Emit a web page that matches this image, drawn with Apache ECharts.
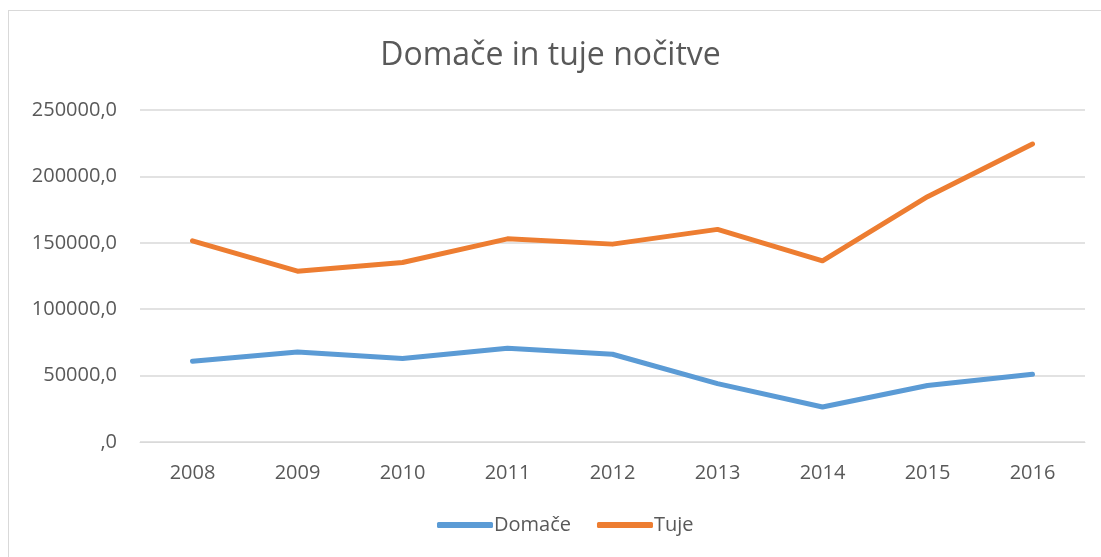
<!DOCTYPE html>
<html>
<head>
<meta charset="utf-8">
<script src="https://cdn.jsdelivr.net/npm/echarts@6/dist/echarts.min.js"></script>
<style>
  html, body { margin: 0; padding: 0; background: #fff; }
  #frame { position: absolute; left: 8px; top: 10px; width: 1110px; height: 560px; border: 1px solid #d9d9d9; }
  #chart { position: absolute; left: 0; top: 0; width: 1101px; height: 557px; }
</style>
</head>
<body>
<div id="frame"></div>
<div id="chart"></div>
<script>
const years = ['2008', '2009', '2010', '2011', '2012', '2013', '2014', '2015', '2016']
const domace = [60800, 67850, 62850, 70600, 66100, 44000, 26400, 42500, 51000]
const tuje = [151500, 128650, 135200, 153000, 149000, 160100, 136400, 184700, 224400]

const FONT = '"Open Sans", sans-serif'
const TEXT_COLOR = '#595959'

const chart = echarts.init(document.getElementById('chart'))
chart.setOption({
  animation: false,
  title: {
    text: 'Domače in tuje nočitve',
    left: 'center',
    top: 35,
    textStyle: { color: TEXT_COLOR, fontSize: 32, fontWeight: 'normal', fontFamily: FONT },
  },
  grid: { left: 140, right: 16, top: 110, bottom: 115 },
  legend: {
    bottom: 17,
    left: 432,
    itemWidth: 56,
    itemHeight: 6,
    itemGap: 26,
    icon: 'roundRect',
    textStyle: { color: TEXT_COLOR, fontSize: 20, fontFamily: FONT, padding: [0, 0, 0, -4] },
  },
  xAxis: {
    type: 'category',
    data: years,
    boundaryGap: true,
    axisLine: { show: true, lineStyle: { color: '#d9d9d9' } },
    axisTick: { show: false },
    axisLabel: { color: TEXT_COLOR, fontSize: 20, fontFamily: FONT, margin: 21 },
  },
  yAxis: {
    type: 'value',
    min: 0,
    max: 250000,
    interval: 50000,
    axisLine: { show: false },
    axisTick: { show: false },
    splitLine: { lineStyle: { color: '#d9d9d9', width: 1.5 } },
    axisLabel: {
      color: TEXT_COLOR,
      fontSize: 20,
      fontFamily: FONT,
      margin: 23,
      formatter: (v) => (v === 0 ? ',0' : v + ',0'),
    },
  },
  series: [
    {
      name: 'Domače',
      type: 'line',
      data: domace,
      symbol: 'none',
      lineStyle: { color: '#5B9BD5', width: 5, cap: 'round', join: 'round' },
      itemStyle: { color: '#5B9BD5' },
    },
    {
      name: 'Tuje',
      type: 'line',
      data: tuje,
      symbol: 'none',
      lineStyle: { color: '#ED7D31', width: 5, cap: 'round', join: 'round' },
      itemStyle: { color: '#ED7D31' },
    },
  ],
})
</script>
</body>
</html>
